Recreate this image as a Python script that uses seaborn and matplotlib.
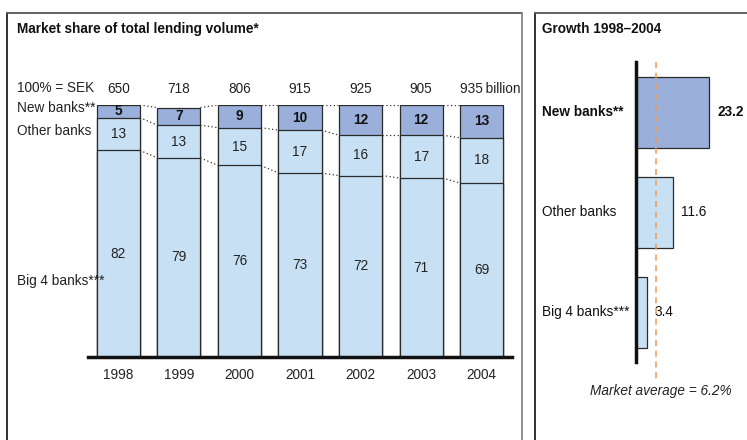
import matplotlib
matplotlib.use("Agg")
import matplotlib.pyplot as plt
import seaborn as sns
import pandas as pd
from matplotlib.lines import Line2D

# ---- data ----
years = ["1998", "1999", "2000", "2001", "2002", "2003", "2004"]
totals_sek = [650, 718, 806, 915, 925, 905, 935]
new_banks = [5, 7, 9, 10, 12, 12, 13]
other_banks = [13, 13, 15, 17, 16, 17, 18]
big4_banks = [82, 79, 76, 73, 72, 71, 69]

growth_groups = ["New banks**", "Other banks", "Big 4 banks***"]
growth_values = [23.2, 11.6, 3.4]
market_average = 6.2

# ---- style ----
sns.set_theme(style="white")
plt.rcParams["font.family"] = ["Liberation Sans", "DejaVu Sans"]
DARK = "#9AAFD9"
LIGHT = "#C8E0F4"
EDGE = "#2a2a2a"
ORANGE = "#EE9A55"
FS = 9.8

W, H = 747, 440
fig = plt.figure(figsize=(W / 100, H / 100), dpi=100)


def px_axes(x0, y0, x1, y1):
    """Axes from pixel box (top-left origin)."""
    return fig.add_axes([x0 / W, 1 - y1 / H, (x1 - x0) / W, (y1 - y0) / H])


def fx(x):
    return x / W


def fy(y):
    return 1 - y / H


# ---- panel frames ----
fig.add_artist(Line2D([fx(7), fx(7)], [fy(13), fy(445)], color="#222222", lw=1.3))
fig.add_artist(Line2D([fx(7), fx(522)], [fy(13), fy(13)], color="#555555", lw=1.3))
fig.add_artist(Line2D([fx(522), fx(522)], [fy(13), fy(445)], color="#888888", lw=1.3))
fig.add_artist(Line2D([fx(535), fx(535)], [fy(13), fy(445)], color="#222222", lw=1.3))
fig.add_artist(Line2D([fx(535), fx(750)], [fy(13), fy(13)], color="#555555", lw=1.3))

fig.text(fx(17), fy(29), "Market share of total lending volume*", fontsize=FS,
         fontweight="bold", va="center", ha="left", color="#111111")
fig.text(fx(542), fy(29), "Growth 1998\u20132004", fontsize=FS,
         fontweight="bold", va="center", ha="left", color="#111111")

# ---- left: stacked share bars ----
ax = px_axes(88, 105, 512, 357)
df = pd.DataFrame({"year": years, "new": new_banks, "other": other_banks, "big4": big4_banks})
df["top"] = df["new"] + df["other"] + df["big4"]
df["mid"] = df["other"] + df["big4"]

bw = 0.71
sns.barplot(data=df, x="year", y="top", color=DARK, saturation=1, width=bw,
            edgecolor=EDGE, linewidth=0.9, ax=ax)
sns.barplot(data=df, x="year", y="mid", color=LIGHT, saturation=1, width=bw,
            edgecolor=EDGE, linewidth=0.9, ax=ax)
sns.barplot(data=df, x="year", y="big4", color=LIGHT, saturation=1, width=bw,
            edgecolor=EDGE, linewidth=0.9, ax=ax)

ax.set_xlim(-0.5, 6.5)
ax.set_ylim(0, 100)
ax.set_xlabel("")
ax.set_ylabel("")
ax.set_yticks([])
ax.tick_params(axis="x", length=0, labelsize=FS, pad=8, colors="#222222")
for s in ["top", "right", "left"]:
    ax.spines[s].set_visible(False)
ax.spines["bottom"].set_color("#111111")
ax.spines["bottom"].set_linewidth(2.5)
ax.patch.set_alpha(0)

# dotted connectors between neighbouring bars
for i in range(len(years) - 1):
    for col in ["top", "mid", "big4"]:
        ax.plot([i + bw / 2, i + 1 - bw / 2], [df[col][i], df[col][i + 1]],
                ls=(0, (1, 2)), color="#333333", lw=0.9)

# segment value labels and column totals
last = len(years) - 1
for i in range(len(years)):
    ax.text(i, df["mid"][i] + new_banks[i] / 2, str(new_banks[i]), ha="center",
            va="center", fontsize=FS, fontweight="bold", color="#111111")
    ax.text(i, big4_banks[i] + other_banks[i] / 2, str(other_banks[i]), ha="center",
            va="center", fontsize=FS, color="#222222")
    ax.text(i, big4_banks[i] / 2, str(big4_banks[i]), ha="center",
            va="center", fontsize=FS, color="#222222")
    if i < last:
        ax.text(i, 106.5, str(totals_sek[i]), ha="center", va="center",
                fontsize=FS, color="#222222", clip_on=False)
    else:
        ax.text(i - bw / 2, 106.5, f"{totals_sek[i]}\u2009billion", ha="left",
                va="center", fontsize=FS, color="#222222", clip_on=False)

fig.text(fx(17), fy(88), "100% = SEK", fontsize=FS, va="center", ha="left", color="#222222")
fig.text(fx(17), fy(108), "New banks**", fontsize=FS, va="center", ha="left", color="#222222")
fig.text(fx(17), fy(131), "Other banks", fontsize=FS, va="center", ha="left", color="#222222")
fig.text(fx(17), fy(281), "Big 4 banks***", fontsize=FS, va="center", ha="left", color="#222222")

# ---- right: growth bars ----
ax2 = px_axes(636, 62, 730.5, 362)
gdf = pd.DataFrame({"group": growth_groups, "growth": growth_values})
sns.barplot(data=gdf, y="group", x="growth", orient="h", width=0.71,
            palette=[DARK, LIGHT, LIGHT], hue="group", legend=False, saturation=1,
            edgecolor=EDGE, linewidth=0.9, ax=ax2)
ax2.set_xlim(0, 30)
ax2.set_ylim(2.5, -0.5)
ax2.set_xlabel("")
ax2.set_ylabel("")
ax2.set_xticks([])
ax2.set_yticks([])
for s in ["top", "right", "bottom"]:
    ax2.spines[s].set_visible(False)
ax2.spines["left"].set_color("#111111")
ax2.spines["left"].set_linewidth(2.5)
ax2.patch.set_alpha(0)

ax2.plot([market_average, market_average], [-0.5, 2.67], ls=(0, (4, 3)),
         color=ORANGE, lw=1.1, clip_on=False, zorder=5)

for i, (g, v) in enumerate(zip(growth_groups, growth_values)):
    bold = "bold" if i == 0 else "normal"
    ax2.text(v + 2.6, i, f"{v:.1f}", ha="left", va="center", fontsize=FS,
             fontweight=bold, color="#111111")
    ax2.text(-29.9, i, g, ha="left", va="center", fontsize=FS, fontweight=bold,
             color="#111111", clip_on=False)

fig.text(fx(661), fy(391), "Market average = 6.2%", fontsize=FS, style="italic",
         ha="center", va="center", color="#222222")

fig.savefig("out.png", dpi=100)
